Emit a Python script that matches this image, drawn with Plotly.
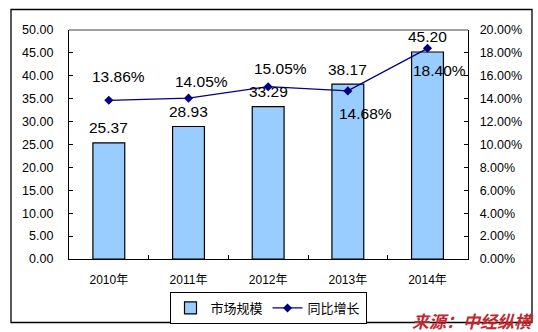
import plotly.graph_objects as go

# Market size (bars, left axis) and year-on-year growth (line, right axis)
years = ["2010年", "2011年", "2012年", "2013年", "2014年"]
market_size = [25.37, 28.93, 33.29, 38.17, 45.20]
growth_pct = [13.86, 14.05, 15.05, 14.68, 18.40]

series_names = ["市场规模", "同比增长"]
source_text = "来源：中经纵横"

# pixel nudges for the growth labels (x, y)
growth_label_shift = [(10, 24), (13, 17), (12, 18), (18, -23), (12, -22)]

W, H = 538, 332
L, R, T, B = 69, 70, 30, 73
PW, PH = W - L - R, H - T - B


def px_x(px):
    return (px - L) / PW


def px_y(py):
    return (H - B - py) / PH


NUM_FONT = "Liberation Sans, Arial, sans-serif"
CJK_FONT = "Liberation Sans, Noto Sans CJK SC, sans-serif"

fig = go.Figure()
fig.add_trace(go.Bar(
    x=years, y=market_size, name=series_names[0],
    marker=dict(color="#99CCFF", line=dict(color="#000000", width=1.2)),
    yaxis="y",
))
fig.add_trace(go.Scatter(
    x=years, y=growth_pct, name=series_names[1], mode="lines+markers",
    line=dict(color="#000080", width=1.3),
    marker=dict(symbol="diamond", size=7, color="#000080"),
    yaxis="y2",
))

annotations = []
for yr, v in zip(years, market_size):
    annotations.append(dict(
        x=yr, y=v, xref="x", yref="y", text=f"{v:.2f}", showarrow=False,
        yshift=15, font=dict(family=NUM_FONT, size=15.5, color="#000000"),
    ))
for yr, v, (dx, dy) in zip(years, growth_pct, growth_label_shift):
    annotations.append(dict(
        x=yr, y=v, xref="x", yref="y2", text=f"{v:.2f}%", showarrow=False,
        xshift=dx, yshift=dy, font=dict(family=NUM_FONT, size=15.5, color="#000000"),
    ))
annotations.append(dict(
    x=px_x(473), y=px_y(320), xref="paper", yref="paper", text=source_text,
    showarrow=False, xanchor="center", yanchor="middle",
    font=dict(family="Noto Sans CJK SC, sans-serif", size=17, color="#C0282D",
              weight="bold", style="italic"),
))

shapes = [
    # outer chart frame
    dict(type="rect", xref="paper", yref="paper",
         x0=px_x(11), x1=px_x(532), y0=px_y(322.5), y1=px_y(9.5),
         line=dict(color="#000000", width=1.3), layer="below"),
    # plot-area border (gray top edge)
    dict(type="line", xref="paper", yref="paper", x0=0, x1=1, y0=1, y1=1,
         line=dict(color="#808080", width=1.3)),
]

fig.update_layout(
    width=W, height=H,
    margin=dict(l=L, r=R, t=T, b=B, pad=0, autoexpand=False),
    paper_bgcolor="white", plot_bgcolor="white",
    bargap=0.6,
    showlegend=True,
    legend=dict(
        orientation="h", x=px_x(268), y=px_y(292), xanchor="center", yanchor="top",
        bordercolor="#000000", borderwidth=1,
        font=dict(family=CJK_FONT, size=13, color="#000000"),
        itemwidth=30, tracegroupgap=0,
    ),
    xaxis=dict(
        type="category", showline=True, linecolor="#000000", linewidth=1.3,
        ticks="inside", ticklen=4, tickcolor="#000000", tickson="boundaries",
        showgrid=False, zeroline=False, ticklabelstandoff=9, automargin=False,
        tickfont=dict(family=CJK_FONT, size=12, color="#000000"),
    ),
    yaxis=dict(
        range=[0, 50], dtick=5, tickformat=".2f", showline=True,
        linecolor="#000000", linewidth=1.3, ticks="inside", ticklen=4,
        tickcolor="#000000", showgrid=False, zeroline=False, ticklabelstandoff=12,
        automargin=False,
        tickfont=dict(family=NUM_FONT, size=12.5, color="#000000"),
    ),
    yaxis2=dict(
        range=[0, 20], dtick=2, tickformat=".2f", ticksuffix="%", overlaying="y",
        side="right", showline=True, linecolor="#000000", linewidth=1.3,
        ticks="inside", ticklen=4, tickcolor="#000000", showgrid=False,
        zeroline=False, ticklabelstandoff=8, automargin=False,
        tickfont=dict(family=NUM_FONT, size=12.5, color="#000000"),
    ),
    annotations=annotations,
    shapes=shapes,
)

fig.write_html("out.html")
